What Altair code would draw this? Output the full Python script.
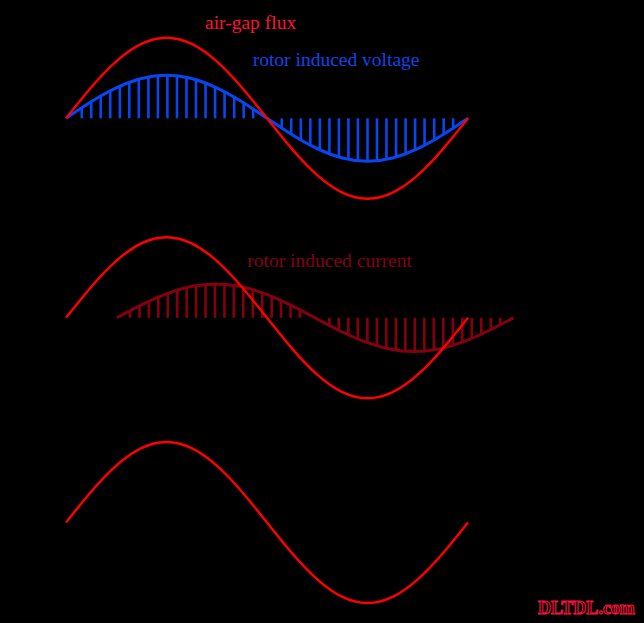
import altair as alt
import pandas as pd
import jinja2

# ---------------- data ----------------
# sample angles (degrees) of the curves and their amplitudes (air-gap flux peak = 1)
CURVE_ANGLES = [0, 22.5, 45, 67.5, 90, 112.5, 135, 157.5, 180, 202.5, 225, 247.5, 270, 292.5, 315, 337.5, 360]
FLUX = [0, 0.383, 0.707, 0.924, 1, 0.924, 0.707, 0.383, 0, -0.383, -0.707, -0.924, -1, -0.924, -0.707, -0.383, 0]
VOLTAGE = [0, 0.205, 0.378, 0.494, 0.535, 0.494, 0.378, 0.205, 0, -0.205, -0.378, -0.494, -0.535, -0.494, -0.378, -0.205, 0]
CURRENT_ANGLES = [45.4, 67.6, 89.8, 112.0, 134.2, 156.4, 178.6, 200.8, 223.0, 245.2, 267.4, 289.6, 311.8, 334.0, 356.2, 378.4, 400.6]
CURRENT = [0, 0.161, 0.297, 0.388, 0.42, 0.388, 0.297, 0.161, 0, -0.161, -0.297, -0.388, -0.42, -0.388, -0.297, -0.161, 0]

# hatching bars under the rotor voltage
VOLT_BAR_ANGLES = [14.1, 22.6, 31.1, 39.6, 48.2, 56.7, 65.2, 73.8, 82.3, 90.8, 99.4, 107.9, 116.4, 125.0, 133.5, 142.0, 150.6, 159.1, 167.6,
                   193.2, 201.7, 210.3, 218.8, 227.3, 235.9, 244.4, 252.9, 261.4, 270.0, 278.5, 287.0, 295.6, 304.1, 312.6, 321.1, 329.7, 338.2, 346.7]
VOLT_BAR_VALUES = [0.130, 0.206, 0.276, 0.341, 0.399, 0.447, 0.486, 0.514, 0.530, 0.535, 0.528, 0.509, 0.479, 0.438, 0.388, 0.329, 0.263, 0.191, 0.115,
                   -0.122, -0.198, -0.270, -0.335, -0.393, -0.443, -0.482, -0.511, -0.529, -0.535, -0.529, -0.512, -0.482, -0.443, -0.394, -0.336, -0.270, -0.199, -0.123]

# hatching bars under the rotor current
CURR_BAR_ANGLES = [57.3, 65.8, 74.2, 82.7, 91.1, 99.6, 108.1, 116.5, 125.0, 133.4, 141.9, 150.3, 158.8, 167.3, 175.7, 184.2, 192.6, 201.1, 209.5,
                   235.8, 244.3, 252.8, 261.3, 269.9, 278.4, 286.9, 295.4, 303.9, 312.4, 320.9, 329.4, 337.9, 346.4, 354.9, 363.4, 371.9, 380.4, 388.8]
CURR_BAR_VALUES = [0.088, 0.148, 0.205, 0.258, 0.304, 0.344, 0.376, 0.400, 0.414, 0.420, 0.416, 0.403, 0.381, 0.350, 0.312, 0.266, 0.215, 0.158, 0.099,
                   -0.095, -0.155, -0.212, -0.264, -0.310, -0.349, -0.380, -0.403, -0.416, -0.420, -0.414, -0.399, -0.375, -0.343, -0.303, -0.256, -0.203, -0.146, -0.086]

# labels
LABEL_TEXT = ["air-gap flux", "rotor induced voltage", "rotor induced current", "DLTDL.com"]
LABEL_ANGLE = [124.5, 167.2, 162.4, 422.7]
LABEL_VALUE = [1.109, 0.650, 0.637, -1.137]

# ---------------- styling ----------------
RED = "#ff0000"
BLUE = "#0a46f0"
DARK_RED = "#84000f"
X_DOMAIN = [-59.10, 517.61]
W = 644

flux_df = pd.DataFrame({"angle": CURVE_ANGLES, "value": FLUX})
volt_df = pd.DataFrame({"angle": CURVE_ANGLES, "value": VOLTAGE})
curr_df = pd.DataFrame({"angle": CURRENT_ANGLES, "value": CURRENT})
vbar_df = pd.DataFrame({"angle": VOLT_BAR_ANGLES, "value": VOLT_BAR_VALUES, "base": [0] * len(VOLT_BAR_ANGLES)})
cbar_df = pd.DataFrame({"angle": CURR_BAR_ANGLES, "value": CURR_BAR_VALUES, "base": [0] * len(CURR_BAR_ANGLES)})
lab_df = pd.DataFrame({"text": LABEL_TEXT, "angle": LABEL_ANGLE, "value": LABEL_VALUE})


def xenc():
    return alt.X("angle:Q", scale=alt.Scale(domain=X_DOMAIN, nice=False, zero=False), axis=None)


def yenc(dom):
    return alt.Y("value:Q", scale=alt.Scale(domain=dom, nice=False, zero=False), axis=None)


def curve(df, color, width, dom):
    return alt.Chart(df).mark_line(color=color, strokeWidth=width, interpolate="natural").encode(
        x=xenc(), y=yenc(dom))


def bars(df, color, dom):
    return alt.Chart(df).mark_rule(color=color, strokeWidth=2.6).encode(
        x=xenc(), y=yenc(dom), y2="base:Q")


def label(i, color, dom, size=19.5, **kw):
    return alt.Chart(lab_df.iloc[[i]]).mark_text(
        align="left", baseline="alphabetic", font="Liberation Serif", fontSize=size, color=color, **kw
    ).encode(x=xenc(), y=yenc(dom), text="text:N")


D1 = [-1.2385, 1.4696]
D2 = [-1.2696, 1.2398]
D3 = [-1.2484, 1.2733]

p1 = alt.layer(
    bars(vbar_df, BLUE, D1),
    curve(volt_df, BLUE, 3, D1),
    curve(flux_df, RED, 2.4, D1),
    label(0, "#ff1038", D1),
    label(1, "#1444ea", D1),
).properties(width=W, height=218)

p2 = alt.layer(
    bars(cbar_df, DARK_RED, D2),
    curve(curr_df, DARK_RED, 3, D2),
    curve(flux_df, RED, 2.4, D2),
    label(2, "#80001a", D2),
).properties(width=W, height=202)

p3 = alt.layer(
    curve(flux_df, RED, 2.4, D3),
    label(3, "#000000", D3, size=18, fontWeight="bold", stroke="#ff1040", strokeWidth=1.1),
).properties(width=W, height=203)

chart = alt.vconcat(p1, p2, p3, spacing=0, bounds="flush").properties(
    background="#000000", padding=0
).configure_view(stroke=None).configure_concat(spacing=0)

TEMPLATE = jinja2.Template("""<!DOCTYPE html>
<html>
<head>
<meta charset="utf-8">
<style>html, body { margin: 0; padding: 0; background: #000000; overflow: hidden; }</style>
<script type="text/javascript" src="{{ base_url }}/vega@{{ vega_version }}"></script>
<script type="text/javascript" src="{{ base_url }}/vega-lite@{{ vegalite_version }}"></script>
<script type="text/javascript" src="{{ base_url }}/vega-embed@{{ vegaembed_version }}"></script>
</head>
<body>
<div id="{{ output_div }}"></div>
<script type="text/javascript">
vegaEmbed("#{{ output_div }}", {{ spec }}, {{ embed_options }}).catch(console.error);
</script>
</body>
</html>""")

try:
    chart.save("out.html", embed_options={"renderer": "svg", "actions": False}, template=TEMPLATE)
except Exception:
    chart.save("out.html", embed_options={"renderer": "svg", "actions": False})
